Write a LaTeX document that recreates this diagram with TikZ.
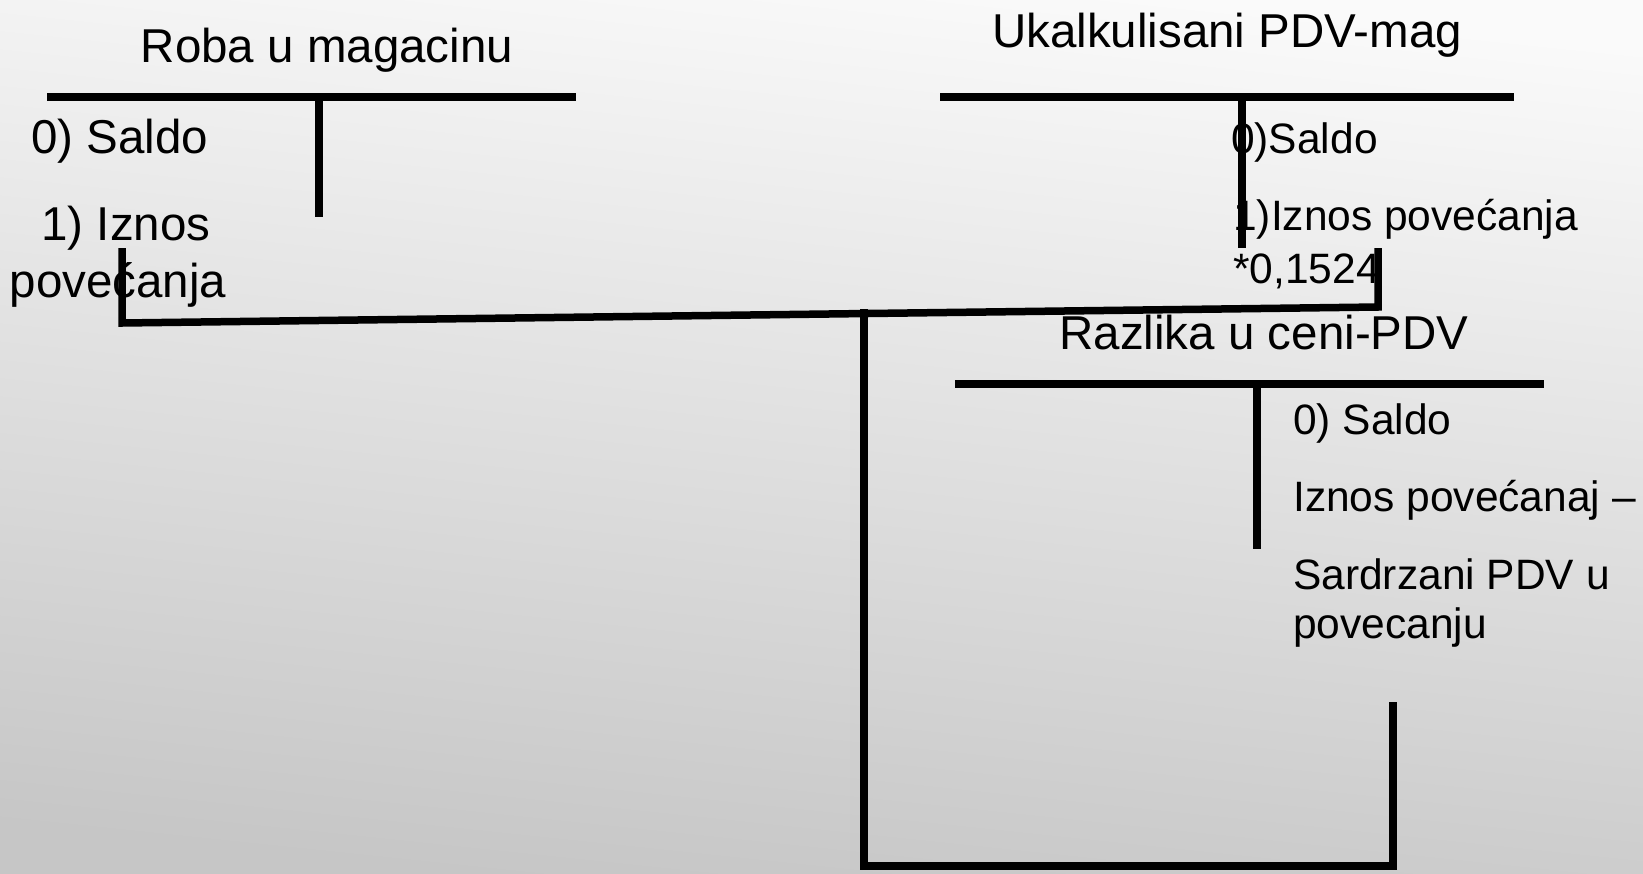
\documentclass[tikz,border=0pt]{standalone}
\usepackage{fontspec}
\setmainfont{Liberation Sans}
\begin{document}
\begin{tikzpicture}[x=1pt,y=-1pt,
  bigtxt/.style={inner sep=0pt,font=\fontsize{47.5}{57}\selectfont},
  smalltxt/.style={inner sep=0pt,font=\fontsize{42.5}{51}\selectfont},
  tline/.style={line width=8pt},
  conn/.style={line width=7.5pt}]
\definecolor{bgtop}{HTML}{FAFAFA}
\definecolor{bgmid}{HTML}{EAEAEA}
\definecolor{bgbot}{HTML}{C6C6C6}
\shade[top color=bgtop,middle color=bgmid,bottom color=bgbot,shading angle=-6] (0,0) rectangle (1643,873);
\useasboundingbox (0,0) rectangle (1643,873);

% --- Roba u magacinu
\node[bigtxt,anchor=base] (robaT) at (327,62) {Roba u magacinu};
\coordinate (robaL) at (47,97);
\coordinate (robaR) at (576,97);
\coordinate (robaV1) at (319,97);
\coordinate (robaV2) at (319,217);
\draw[tline] (robaL) -- (robaR);
\draw[tline] (robaV1) -- (robaV2);
\node[bigtxt,anchor=base west] (robaS) at (31,153) {0) Saldo};
\node[bigtxt,anchor=base] (robaI1) at (126,240) {1) Iznos};
\node[bigtxt,anchor=base] (robaI2) at (118,297) {povećanja};

% --- Ukalkulisani PDV-mag
\node[bigtxt,anchor=base] (ukT) at (1227,47) {Ukalkulisani PDV-mag};
\coordinate (ukL) at (940,97);
\coordinate (ukR) at (1514,97);
\coordinate (ukV1) at (1242,97);
\coordinate (ukV2) at (1242,248);
\draw[tline] (ukL) -- (ukR);
\draw[tline] (ukV1) -- (ukV2);
\node[smalltxt,anchor=base west] (ukS) at (1231,153) {0)Saldo};
\node[smalltxt,anchor=base west] (ukI) at (1233,230) {1)Iznos povećanja};
\node[smalltxt,anchor=base west] (ukK) at (1233,283) {*0,1524};

% --- Razlika u ceni-PDV
\node[bigtxt,anchor=base] (rzT) at (1264,349) {Razlika u ceni-PDV};
\coordinate (rzL) at (955,384);
\coordinate (rzR) at (1544,384);
\coordinate (rzV1) at (1257,384);
\coordinate (rzV2) at (1257,549);
\draw[tline] (rzL) -- (rzR);
\draw[tline] (rzV1) -- (rzV2);
\node[smalltxt,anchor=base west] (rzS) at (1293,434) {0) Saldo};
\node[smalltxt,anchor=base west] (rzI) at (1293,511) {Iznos povećanaj –};
\node[smalltxt,anchor=base west] (rzP1) at (1293,589) {Sardrzani PDV u};
\node[smalltxt,anchor=base west] (rzP2) at (1293,638) {povecanju};

% --- connectors
\coordinate (c1a) at (122,248);
\coordinate (c1b) at (122,323);
\coordinate (c1c) at (1378,307);
\coordinate (c1d) at (1378,248);
\draw[conn] (c1a) -- (c1b) -- (c1c) -- (c1d);

\coordinate (c2a) at (864,309);
\coordinate (c2b) at (864,866);
\coordinate (c2c) at (1393,866);
\coordinate (c2d) at (1393,702);
\draw[conn] (c2a) -- (c2b) -- (c2c) -- (c2d);
\end{tikzpicture}
\end{document}
